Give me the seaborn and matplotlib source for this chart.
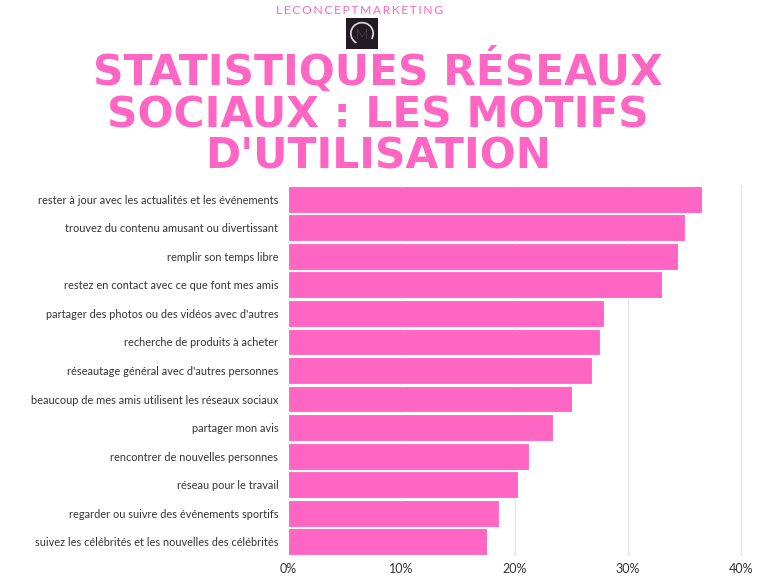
import matplotlib
matplotlib.use("Agg")
import matplotlib.pyplot as plt
import seaborn as sns
import pandas as pd
from matplotlib.patches import Rectangle, Arc

motifs = [
    "rester à jour avec les actualités et les événements",
    "trouvez du contenu amusant ou divertissant",
    "remplir son temps libre",
    "restez en contact avec ce que font mes amis",
    "partager des photos ou des vidéos avec d'autres",
    "recherche de produits à acheter",
    "réseautage général avec d'autres personnes",
    "beaucoup de mes amis utilisent les réseaux sociaux",
    "partager mon avis",
    "rencontrer de nouvelles personnes",
    "réseau pour le travail",
    "regarder ou suivre des événements sportifs",
    "suivez les célébrités et les nouvelles des célébrités",
]
pourcentages = [36.5, 35.0, 34.4, 33.0, 27.9, 27.5, 26.8, 25.1, 23.4, 21.3, 20.3, 18.6, 17.6]
x_ticks = [0, 10, 20, 30, 40]
x_tick_labels = ["0%", "10%", "20%", "30%", "40%"]

PINK = "#FF66C4"

sns.set_theme(style="white")
plt.rcParams['font.family'] = ['Lato', 'DejaVu Sans']

df = pd.DataFrame({"motif": motifs, "pct": pourcentages})

fig = plt.figure(figsize=(7.68, 5.76), dpi=100)
ax = fig.add_axes([288/768, 1-556/576, (747-288)/768, (556-185)/576])

sns.barplot(data=df, x="pct", y="motif", color=PINK, saturation=1,
            width=0.94, edgecolor="white", linewidth=0.8, ax=ax, zorder=3)

ax.set_xlim(0, 40.5)
ax.set_ylim(12.5, -0.5)
ax.set_xticks(x_ticks)
ax.set_xticklabels(x_tick_labels, fontsize=9, color="#333333")
ax.tick_params(axis="y", labelsize=7.9, colors="#333333", pad=7, length=0)
ax.tick_params(axis="x", pad=5, length=0)
ax.set_xlabel("")
ax.set_ylabel("")
for s in ax.spines.values():
    s.set_visible(False)
ax.xaxis.grid(True, color="#e6e6e6", linewidth=1, zorder=0)
ax.set_axisbelow(True)

# header
fig.text(360/768, 1-10/576, "\u2009".join("LECONCEPTMARKETING"),
         ha="center", va="center", color=PINK, fontsize=8.8,
         fontfamily=["Lato", "DejaVu Sans"])
# logo
lax = fig.add_axes([346/768, 1-49/576, 32/768, 31/576])
lax.set_xlim(0, 1); lax.set_ylim(0, 1); lax.axis("off")
lax.add_patch(Rectangle((0, 0), 1, 1, color="#231b24"))
lax.add_patch(Arc((0.5, 0.5), 0.7, 0.7, theta1=-30, theta2=240, color="#dddddd", lw=1.2))
lax.text(0.5, 0.45, "M", ha="center", va="center", color="#dddddd", fontsize=10, fontweight="light")

titre = ["STATISTIQUES RÉSEAUX", "SOCIAUX : LES MOTIFS", "D'UTILISATION"]
fig.text(378/768, 1-113/576, "\n".join(titre), ha="center", va="center",
         multialignment="center", linespacing=0.99,
         color=PINK, fontsize=30.5, fontweight="heavy",
         fontfamily=["DejaVu Sans"])

fig.savefig("out.png", dpi=100, facecolor="white")
